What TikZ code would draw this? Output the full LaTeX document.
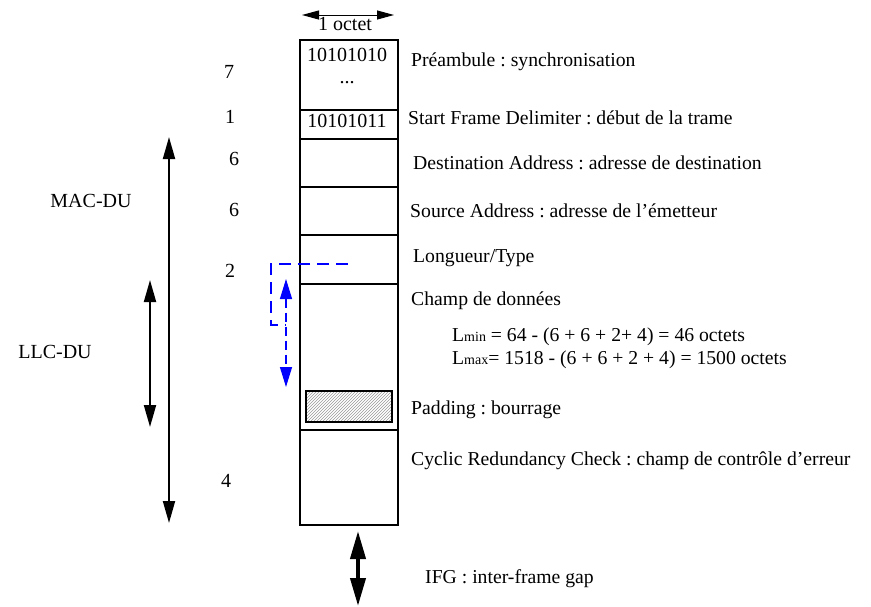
\documentclass[tikz,border=0pt]{standalone}
\usepackage{fontspec}
\setmainfont{Liberation Serif}
\usetikzlibrary{arrows.meta,patterns}
\frenchspacing
\begin{document}
\begin{tikzpicture}[x=1pt,y=-1pt,
  field/.style={draw,line width=2pt,minimum width=98pt,inner sep=0pt,anchor=north},
  lbl/.style={anchor=west,inner sep=0pt,font=\fontsize{19.7}{22}\selectfont},
  num/.style={inner sep=0pt,font=\fontsize{20}{22}\selectfont},
  bits/.style={inner sep=0pt,font=\fontsize{20}{22}\selectfont},
  bigarrow/.style={line width=1.8pt,{Triangle[length=22pt,width=12pt]}-{Triangle[length=22pt,width=12pt]}},
  bluearrow/.style={draw=blue,line width=1.3pt,dash pattern=on 9pt off 5pt,{Triangle[length=20pt,width=12pt,fill=blue]}-{Triangle[length=20pt,width=12pt,fill=blue]}},
  bluedash/.style={draw=blue,line width=1.3pt,dash pattern=on 12pt off 7pt}]
\useasboundingbox (0,0) rectangle (871,606);
% frame fields
\node[field,minimum height=70pt] (pre) at (349,39) {};
\node[field,minimum height=29pt] (sfd) at (349,109) {};
\node[field,minimum height=48pt] (dst) at (349,138) {};
\node[field,minimum height=48pt] (src) at (349,186) {};
\node[field,minimum height=49pt] (lt) at (349,234) {};
\node[field,minimum height=146pt] (data) at (349,283) {};
\node[field,minimum height=95pt] (crc) at (349,429) {};
\node[draw,line width=2pt,minimum width=86pt,minimum height=31pt,inner sep=0pt,
  fill=gray!15,pattern=north east lines,pattern color=gray!80] (pad) at (349,406) {};
% inner texts
\node[bits] (b1) at (347,54.5) {10101010};
\node[bits] (dots) at (347,83) {...};
\node[bits] (b2) at (347,121) {10101011};
% 1 octet
\coordinate (oa) at (302,15);
\coordinate (ob) at (394,15);
\draw[line width=1pt,{Triangle[length=17pt,width=9pt]}-{Triangle[length=17pt,width=9pt]}] (oa) -- (ob);
\node[num] (oct) at (345,24) {1 octet};
% numbers
\node[num] (n7) at (229,72) {7};
\node[num] (n1) at (230,117) {1};
\node[num] (n6a) at (234,159) {6};
\node[num] (n6b) at (234,210) {6};
\node[num] (n2) at (230,271) {2};
\node[num] (n4) at (226,481) {4};
% labels
\node[lbl] (l1) at (411,62) {Préambule : synchronisation};
\node[lbl] (l2) at (408,118) {Start Frame Delimiter : début de la trame};
\node[lbl] (l3) at (413,163) {Destination Address : adresse de destination};
\node[lbl] (l4) at (410,211) {Source Address : adresse de l'émetteur};
\node[lbl] (l5) at (413,258) {Longueur/Type};
\node[lbl] (l6) at (411,301) {Champ de données};
\node[lbl] (l7) at (452,337) {L{\fontsize{14}{16}\selectfont min} = 64 - (6 + 6 + 2+ 4) = 46 octets};
\node[lbl] (l8) at (452,360) {L{\fontsize{14}{16}\selectfont max}= 1518 - (6 + 6 + 2 + 4) = 1500 octets};
\node[lbl] (l9) at (411,410) {Padding : bourrage};
\node[lbl] (l10) at (411,461) {Cyclic Redundancy Check : champ de contrôle d’erreur};
\node[lbl] (l11) at (425,579) {IFG : inter-frame gap};
% MAC-DU / LLC-DU
\node[num] (mac) at (91,201) {MAC-DU};
\node[num] (llc) at (55,352) {LLC-DU};
\coordinate (m1) at (169,137);
\coordinate (m2) at (169,523);
\draw[bigarrow] (m1) -- (m2);
\coordinate (c1) at (150,280);
\coordinate (c2) at (150,427);
\draw[bigarrow] (c1) -- (c2);
% blue dashed
\coordinate (d1) at (348,264);
\coordinate (d2) at (271,264);
\coordinate (d3) at (271,325);
\coordinate (d4) at (286,325);
\draw[bluedash] (d1) -- (d2) -- (d3) -- (d4);
\coordinate (e1) at (286,279);
\coordinate (e2) at (286,387);
\draw[bluearrow] (e1) -- (e2);
% IFG
\coordinate (g1) at (358,531);
\coordinate (g2) at (358,606);
\draw[line width=4pt,{Triangle[length=28pt,width=15pt]}-{Triangle[length=28pt,width=15pt]}] (g1) -- (g2);
\end{tikzpicture}
\end{document}
